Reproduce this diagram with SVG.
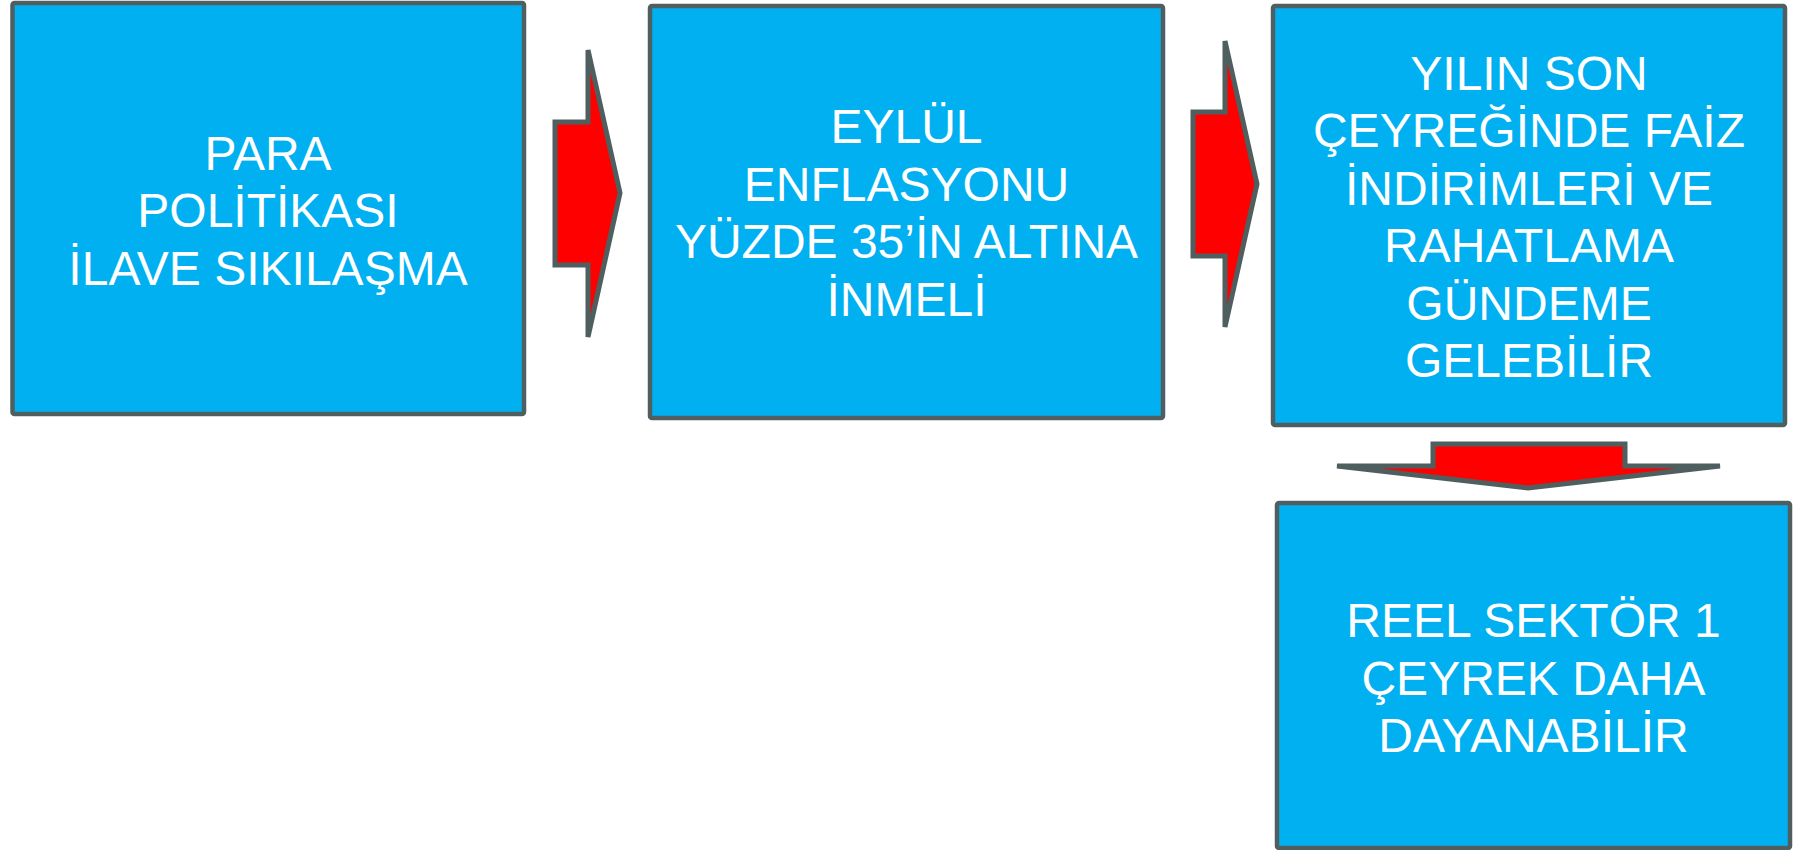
<svg xmlns="http://www.w3.org/2000/svg" width="1802" height="850" viewBox="0 0 1802 850">
<style>
.box{fill:#00B0F0;stroke:#4F5F5F;stroke-width:4.5;stroke-linejoin:round}
.arr{fill:#FF0000;stroke:#4F5F5F;stroke-width:5;stroke-linejoin:miter}
.t{font-family:"Liberation Sans",Arial,sans-serif;font-size:48px;fill:#FFFFFF;text-anchor:middle}
</style>
<rect x="0" y="0" width="1802" height="850" fill="#FFFFFF"/>
<g id="connectors">
<polygon class="arr" points="555,122 588,122 588,50 620,193 588,337 588,265 555,265"/>
<polygon class="arr" points="1193,112 1225,112 1225,41 1257,184 1225,327 1225,256 1193,256"/>
<polygon class="arr" points="1433,444 1625,444 1625,466 1720,466 1528,488 1337,466 1433,466"/>
</g>
<g id="node1">
<rect class="box" x="12.5" y="3" width="511.5" height="411" rx="2"/>
<text class="t" x="268"><tspan x="268" y="169.5">PARA</tspan><tspan x="268" y="227">POLİTİKASI</tspan><tspan x="268" y="284.5">İLAVE SIKILAŞMA</tspan></text>
</g>
<g id="node2">
<rect class="box" x="650" y="6" width="513" height="412" rx="2"/>
<text class="t"><tspan x="906.5" y="143">EYLÜL</tspan><tspan x="906.5" y="200.5">ENFLASYONU</tspan><tspan x="906.5" y="258">YÜZDE 35’İN ALTINA</tspan><tspan x="906.5" y="316">İNMELİ</tspan></text>
</g>
<g id="node3">
<rect class="box" x="1273" y="6" width="512" height="419" rx="2"/>
<text class="t"><tspan x="1529" y="89.5">YILIN SON</tspan><tspan x="1529" y="147">ÇEYREĞİNDE FAİZ</tspan><tspan x="1529" y="204.5">İNDİRİMLERİ VE</tspan><tspan x="1529" y="262">RAHATLAMA</tspan><tspan x="1529" y="319.5">GÜNDEME</tspan><tspan x="1529" y="377">GELEBİLİR</tspan></text>
</g>
<g id="node4">
<rect class="box" x="1277" y="503" width="513" height="345" rx="2"/>
<text class="t"><tspan x="1533.5" y="637">REEL SEKTÖR 1</tspan><tspan x="1533.5" y="694.5">ÇEYREK DAHA</tspan><tspan x="1533.5" y="752">DAYANABİLİR</tspan></text>
</g>
</svg>
